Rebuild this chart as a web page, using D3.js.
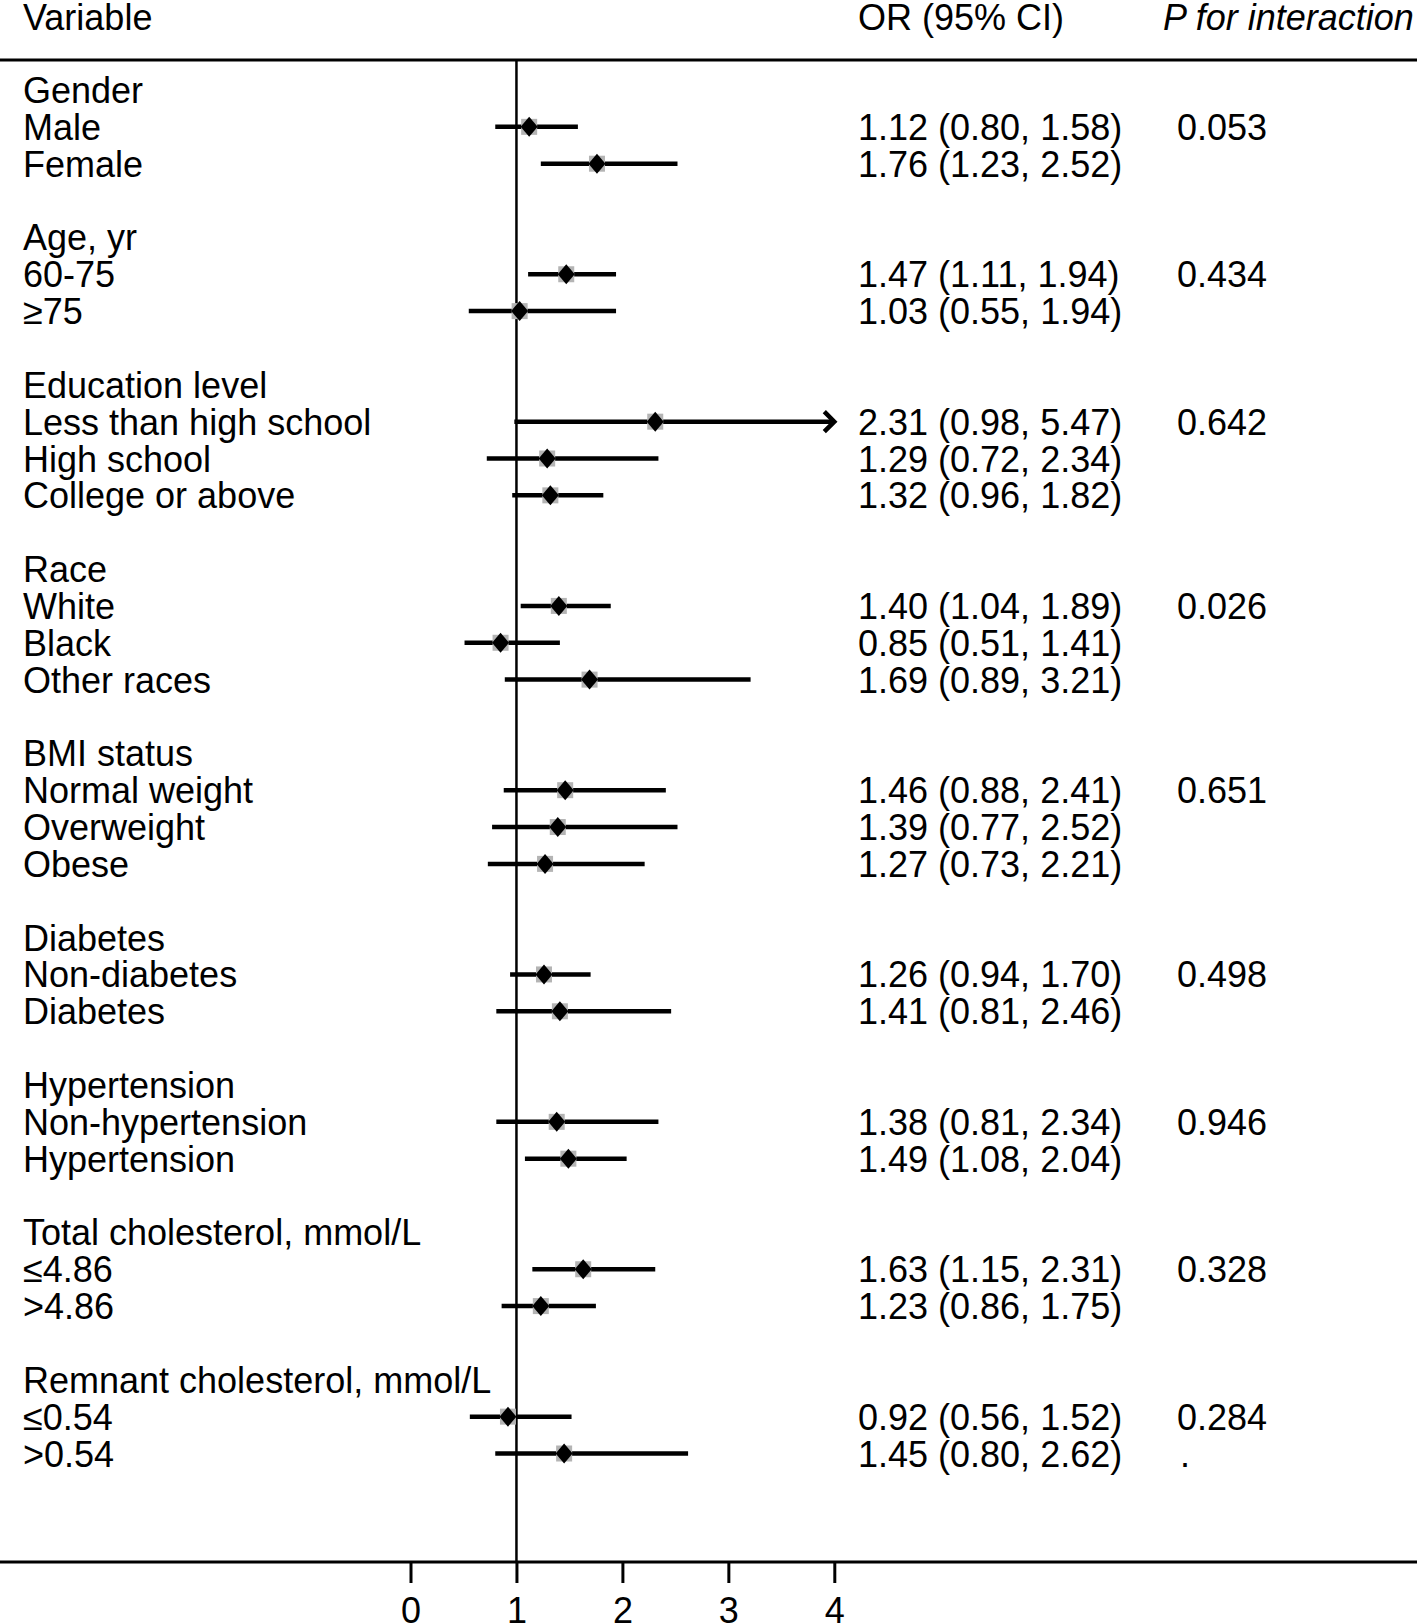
<!DOCTYPE html>
<html>
  <head>
    <title>Subgroup forest plot</title>
    <meta charset="UTF-8" />
    <style>
      body { margin: 0; background: #fff; }
      text { font-family: "Liberation Sans", Arial, Helvetica, sans-serif; font-size: 36px; fill: #000; }
    </style>
  </head>
  <body>
    <script src="https://cdn.jsdelivr.net/npm/d3@7/dist/d3.min.js" charset="utf-8"></script>
    <script>
      // subgroup data, one entry per group
      var groupNames = ["Gender", "Age, yr", "Education level", "Race", "BMI status",
                        "Diabetes", "Hypertension", "Total cholesterol, mmol/L",
                        "Remnant cholesterol, mmol/L"];
      var subgroups = [
        ["Male", "Female"],
        ["60-75", "\u226575"],
        ["Less than high school", "High school", "College or above"],
        ["White", "Black", "Other races"],
        ["Normal weight", "Overweight", "Obese"],
        ["Non-diabetes", "Diabetes"],
        ["Non-hypertension", "Hypertension"],
        ["\u22644.86", ">4.86"],
        ["\u22640.54", ">0.54"]
      ];
      var orValues = [
        [1.12, 1.76], [1.47, 1.03], [2.31, 1.29, 1.32], [1.40, 0.85, 1.69],
        [1.46, 1.39, 1.27], [1.26, 1.41], [1.38, 1.49], [1.63, 1.23], [0.92, 1.45]
      ];
      var ciLower = [
        [0.80, 1.23], [1.11, 0.55], [0.98, 0.72, 0.96], [1.04, 0.51, 0.89],
        [0.88, 0.77, 0.73], [0.94, 0.81], [0.81, 1.08], [1.15, 0.86], [0.56, 0.80]
      ];
      var ciUpper = [
        [1.58, 2.52], [1.94, 1.94], [5.47, 2.34, 1.82], [1.89, 1.41, 3.21],
        [2.41, 2.52, 2.21], [1.70, 2.46], [2.34, 2.04], [2.31, 1.75], [1.52, 2.62]
      ];
      var pInteraction = [
        ["0.053", ""], ["0.434", ""], ["0.642", "", ""], ["0.026", "", ""],
        ["0.651", "", ""], ["0.498", ""], ["0.946", ""], ["0.328", ""], ["0.284", "."]
      ];
      var xTicks = [0, 1, 2, 3, 4];

      var width = 1417, height = 1623;
      var topLineY = 60, axisY = 1562;
      var xMax = 4;

      // flatten into rows: header row, subgroup rows, blank spacer
      var rows = [];
      var idx = 0;
      groupNames.forEach(function(g, gi) {
        rows.push({ "i": idx++, "label": g, "head": true });
        subgroups[gi].forEach(function(s, si) {
          rows.push({ "i": idx++, "label": s, "head": false,
                      "or": orValues[gi][si], "lo": ciLower[gi][si], "hi": ciUpper[gi][si],
                      "p": pInteraction[gi][si] });
        });
        idx++;
      });
      var est = rows.filter(function(d) { return !d.head; });

      var x = d3.scaleLinear().domain([0, 4]).range([410.5, 834.3]);
      var y = d3.scaleLinear().domain([0, 37]).range([90, 1453.5]);

      var fmt = d3.format(".2f");

      var svg = d3.select("body")
                .append("svg")
                .attr("width", width)
                .attr("height", height);

      // column headers
      svg.append("text").attr("x", 23).attr("y", 29.5).text("Variable");
      svg.append("text").attr("x", 858).attr("y", 29.5).text("OR (95% CI)");
      svg.append("text").attr("x", 1163).attr("y", 29.5)
        .style("font-style", "italic").text("P for interaction");

      svg.append("line")
        .attr("x1", 0).attr("x2", width)
        .attr("y1", topLineY).attr("y2", topLineY)
        .style("stroke", "#000").style("stroke-width", 3);

      // reference line at OR = 1
      svg.append("line")
        .attr("x1", x(1)).attr("x2", x(1))
        .attr("y1", topLineY).attr("y2", axisY)
        .style("stroke", "#000").style("stroke-width", 2.5);

      // labels
      svg.append("g").selectAll("text")
        .data(rows)
        .enter()
        .append("text")
        .attr("x", 23)
        .attr("y", function(d) { return y(d.i) + 13; })
        .text(function(d) { return d.label; });

      svg.append("g").selectAll("text")
        .data(est)
        .enter()
        .append("text")
        .attr("x", 858)
        .attr("y", function(d) { return y(d.i) + 13; })
        .text(function(d) { return fmt(d.or) + " (" + fmt(d.lo) + ", " + fmt(d.hi) + ")"; });

      svg.append("g").selectAll("text")
        .data(est)
        .enter()
        .append("text")
        .attr("x", function(d) { return d.p === "." ? 1180 : 1177; })
        .attr("y", function(d) { return y(d.i) + 13; })
        .text(function(d) { return d.p; });

      // confidence intervals
      svg.append("g").selectAll("line")
        .data(est)
        .enter()
        .append("line")
        .attr("x1", function(d) { return x(d.lo); })
        .attr("x2", function(d) { return x(Math.min(d.hi, xMax)); })
        .attr("y1", function(d) { return y(d.i); })
        .attr("y2", function(d) { return y(d.i); })
        .style("stroke", "#000").style("stroke-width", 4.5);

      // arrow for CIs beyond the axis
      svg.append("g").selectAll("path")
        .data(est.filter(function(d) { return d.hi > xMax; }))
        .enter()
        .append("path")
        .attr("d", function(d) {
          var ax = x(xMax), ay = y(d.i);
          return "M" + (ax - 10) + "," + (ay - 10) + "L" + ax + "," + ay + "L" + (ax - 10) + "," + (ay + 10);
        })
        .style("fill", "none").style("stroke", "#000").style("stroke-width", 4.5);

      // grey weight boxes and diamond point estimates
      svg.append("g").selectAll("rect")
        .data(est)
        .enter()
        .append("rect")
        .attr("x", function(d) { return x(d.or) - 8; })
        .attr("y", function(d) { return y(d.i) - 8; })
        .attr("width", 16).attr("height", 16)
        .style("fill", "#b4b4b4");

      svg.append("g").selectAll("path")
        .data(est)
        .enter()
        .append("path")
        .attr("d", function(d) {
          var cx = x(d.or), cy = y(d.i);
          return "M" + cx + "," + (cy - 10) + "L" + (cx + 8.5) + "," + cy + "L" + cx + "," + (cy + 10) + "L" + (cx - 8.5) + "," + cy + "Z";
        })
        .style("fill", "#000");

      // bottom axis
      svg.append("line")
        .attr("x1", 0).attr("x2", width)
        .attr("y1", axisY).attr("y2", axisY)
        .style("stroke", "#000").style("stroke-width", 3);

      var axis = svg.append("g")
        .attr("transform", "translate(0," + axisY + ")")
        .call(d3.axisBottom(x).tickValues(xTicks).tickFormat(d3.format("d"))
                .tickSize(21).tickPadding(14).tickSizeOuter(0));
      axis.select(".domain").remove();
      axis.selectAll(".tick line").style("stroke", "#000").style("stroke-width", 3);
      axis.selectAll(".tick text")
        .style("font-size", "36px")
        .style("font-family", "'Liberation Sans', Arial, Helvetica, sans-serif")
        .style("fill", "#000");
    </script>
  </body>
</html>
